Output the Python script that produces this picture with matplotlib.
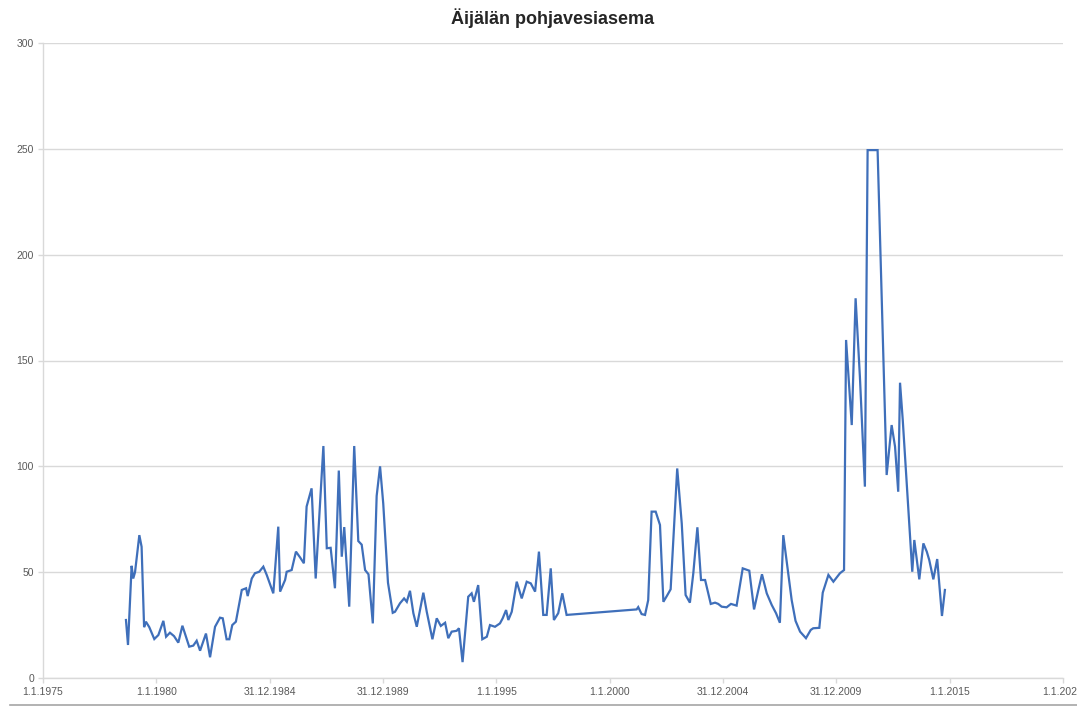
import matplotlib
matplotlib.use("Agg")
import matplotlib.pyplot as plt
from matplotlib.lines import Line2D

# mittausajankohta (vuosina) ja arvot luettu kuvasta
years = [1978.66, 1978.75, 1978.91, 1978.98, 1979.06, 1979.25, 1979.35, 1979.46, 1979.54, 1979.69,
         1979.91, 1980.09, 1980.31, 1980.43, 1980.60, 1980.78, 1980.97, 1981.15, 1981.45, 1981.63,
         1981.78, 1981.93, 1982.19, 1982.37, 1982.59, 1982.81, 1982.93, 1983.10, 1983.22, 1983.35,
         1983.51, 1983.77, 1983.96, 1984.03, 1984.21, 1984.35, 1984.54, 1984.72, 1984.87, 1985.16,
         1985.38, 1985.46, 1985.68, 1985.75, 1985.97, 1986.16, 1986.34, 1986.51, 1986.63, 1986.85,
         1987.03, 1987.37, 1987.52, 1987.69, 1987.88, 1988.05, 1988.18, 1988.29, 1988.51, 1988.73,
         1988.91, 1989.06, 1989.21, 1989.36, 1989.55, 1989.72, 1989.87, 1990.01, 1990.22, 1990.43,
         1990.53, 1990.75, 1990.93, 1991.05, 1991.19, 1991.34, 1991.49, 1991.78, 1991.93, 1992.18,
         1992.37, 1992.55, 1992.74, 1992.88, 1993.03, 1993.25, 1993.35, 1993.51, 1993.76, 1993.91,
         1994.01, 1994.20, 1994.38, 1994.58, 1994.72, 1994.94, 1995.16, 1995.28, 1995.43, 1995.53,
         1995.68, 1995.90, 1996.12, 1996.34, 1996.52, 1996.71, 1996.88, 1997.07, 1997.22, 1997.40,
         1997.54, 1997.73, 1997.91, 1998.10, 2001.19, 2001.26, 2001.41, 2001.56, 2001.70, 2001.85,
         2002.03, 2002.22, 2002.37, 2002.52, 2002.69, 2002.81, 2002.98, 2003.18, 2003.35, 2003.54,
         2003.69, 2003.87, 2004.03, 2004.21, 2004.46, 2004.65, 2004.79, 2004.94, 2005.16, 2005.35,
         2005.60, 2005.87, 2006.16, 2006.37, 2006.56, 2006.72, 2006.93, 2007.15, 2007.34, 2007.51,
         2007.66, 2007.87, 2008.03, 2008.20, 2008.40, 2008.66, 2008.87, 2008.98, 2009.25, 2009.40,
         2009.65, 2009.87, 2010.16, 2010.34, 2010.43, 2010.68, 2010.85, 2011.04, 2011.26, 2011.38,
         2011.82, 2012.22, 2012.44, 2012.59, 2012.73, 2012.81, 2012.93, 2013.35, 2013.44, 2013.66,
         2013.84, 2013.99, 2014.10, 2014.28, 2014.45, 2014.66, 2014.79]
values = [27.4, 15.6, 53, 47, 50, 67.5, 62, 24, 26.6, 24,
          18.4, 20.3, 27, 19.5, 21.4, 19.8, 16.7, 24.7, 14.8, 15.3,
          17.6, 12.9, 21, 9.8, 24.2, 28.5, 28.2, 18.3, 18.3, 25,
          26.6, 41.6, 42.4, 38.7, 47, 49.5, 50.2, 52.6, 48.7, 40,
          71.5, 40.8, 46.3, 50.2, 51, 59.7, 57, 54.2, 81, 89.6,
          47, 109.6, 61.3, 61.5, 42.4, 98, 57.3, 71.3, 33.7, 109.6,
          64.7, 63, 51, 49, 25.8, 86, 100, 82.5, 45, 30.8,
          31.3, 35.3, 37.6, 36, 41.2, 30.6, 24.2, 40.3, 31.3, 18.3,
          28.2, 24.6, 26.1, 18.8, 21.9, 22.3, 23.5, 7.5, 38.4, 40,
          36, 43.9, 18.3, 19.5, 25, 24.2, 25.8, 28.2, 32.1, 27.4,
          31.3, 45.5, 37.6, 45.5, 44.7, 40.8, 59.7, 29.8, 29.8, 51.8,
          27.4, 30.6, 40, 29.8, 32.4, 33.5, 30.2, 29.8, 36.8, 78.6,
          78.6, 72.3, 36, 38.7, 41.9, 65.2, 99, 73, 39.2, 35.6,
          49.5, 71.2, 46.3, 46.3, 35, 35.6, 35, 33.7, 33.4, 35,
          34.2, 51.8, 50.7, 32.4, 41.6, 49, 40, 34.5, 30.6, 26.1,
          67.5, 50, 36.8, 27, 21.9, 18.8, 22.7, 23.5, 23.7, 40.3,
          48.7, 45.5, 49.5, 51, 159.7, 119.5, 179.4, 142.3, 90.4, 249.4,
          249.4, 95.9, 119.5, 109.3, 88, 139.5, 121.9, 50.2, 65.2, 46.6,
          63.6, 59.7, 55.7, 46.6, 56.2, 29.3, 41.6]

tick_years = [1975.0, 1980.0, 1984.997, 1989.997, 1995.0, 2000.0, 2004.997, 2009.997, 2015.0, 2020.0]
tick_labels = ['1.1.1975', '1.1.1980', '31.12.1984', '31.12.1989', '1.1.1995',
               '1.1.2000', '31.12.2004', '31.12.2009', '1.1.2015', '1.1.2020']
y_ticks = [0, 50, 100, 150, 200, 250, 300]

plt.rcParams['font.family'] = ['Liberation Sans', 'DejaVu Sans']

fig = plt.figure(figsize=(10.77, 7.06), dpi=100)
ax = fig.add_axes([43/1077, 28/706, 1020/1077, 635/706])

ax.plot(years, values, color='#3f6fba', lw=1.6, solid_joinstyle='miter')

ax.set_xlim(1975, 2020)
ax.set_ylim(0, 300)
ax.set_xticks(tick_years)
ax.set_xticklabels(tick_labels)
ax.set_yticks(y_ticks)

ax.grid(axis='y', color='#d9d9d9', lw=1)
ax.set_axisbelow(True)
for s in ['top', 'right']:
    ax.spines[s].set_visible(False)
ax.spines['left'].set_color('#d9d9d9')
ax.spines['bottom'].set_color('#d9d9d9')
ax.spines['left'].set_linewidth(1)
ax.spines['bottom'].set_linewidth(1)
ax.tick_params(axis='both', colors='#d9d9d9', labelcolor='#595959', labelsize=7.5,
               length=3.5, width=1, pad=3)

ax.set_title('Äijälän pohjavesiasema', fontsize=13, fontweight='bold', color='#262626', pad=14)

# kaavion reunaviiva alhaalla
fig.add_artist(Line2D([10/1077, 1], [1/706, 1/706], color='#a6a6a6', lw=1.2))

fig.savefig('out.png', dpi=100)
